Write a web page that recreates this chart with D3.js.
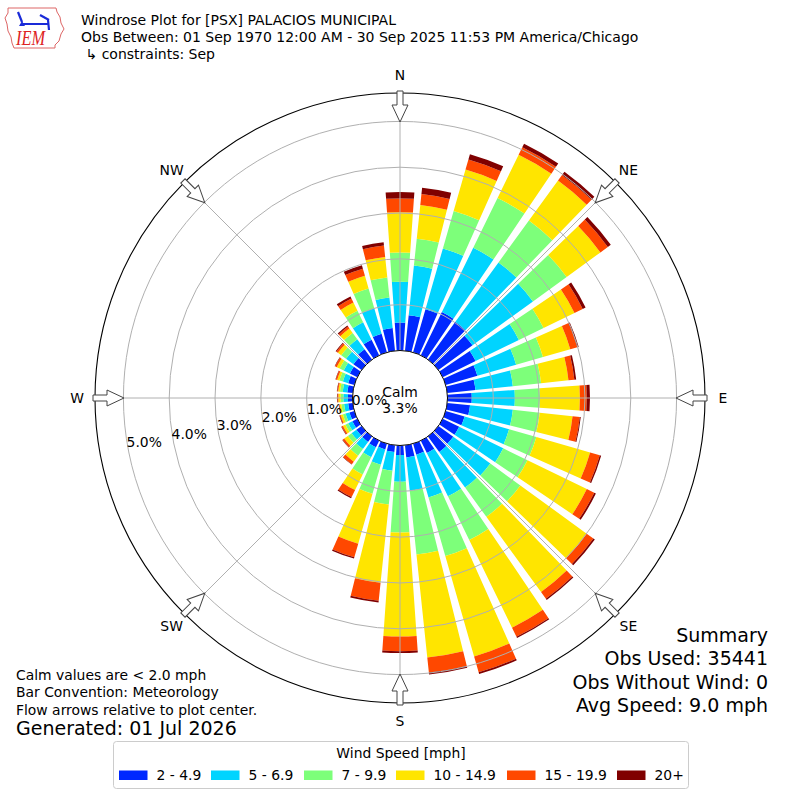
<!DOCTYPE html>
<html>
<head>
<meta charset="utf-8">
<script src="https://cdn.jsdelivr.net/npm/d3@7/dist/d3.min.js"></script>
<style>
  body { margin: 0; background: #fff; }
  svg { display: block; }
  text { font-family: "DejaVu Sans", sans-serif; fill: #000; }
</style>
</head>
<body>
<svg id="chart" width="800" height="800"></svg>
<script>
// wind directions (deg, meteorological) and % frequency per speed bin
const directions = [0, 10, 20, 30, 40, 50, 60, 70, 80, 90, 100, 110, 120, 130, 140, 150, 160, 170,
  180, 190, 200, 210, 220, 230, 240, 250, 260, 270, 280, 290, 300, 310, 320, 330, 340, 350];

const spd2to5 = [0.61, 0.78, 0.98, 1.05, 1.02, 0.92, 0.80, 0.72, 0.62, 0.53, 0.50, 0.43, 0.40, 0.40, 0.42, 0.30, 0.25, 0.27,
  0.21, 0.15, 0.13, 0.16, 0.15, 0.14, 0.12, 0.11, 0.10, 0.10, 0.12, 0.14, 0.18, 0.22, 0.28, 0.38, 0.42, 0.50];
const spd5to7 = [0.89, 1.09, 1.38, 1.56, 1.60, 1.63, 1.05, 0.88, 0.82, 0.94, 0.94, 1.01, 1.07, 1.00, 0.96, 1.05, 0.97, 0.73,
  0.58, 0.41, 0.35, 0.24, 0.19, 0.13, 0.10, 0.09, 0.09, 0.10, 0.10, 0.12, 0.15, 0.20, 0.27, 0.42, 0.58, 0.67];
const spd7to10 = [0.64, 0.59, 0.85, 1.21, 1.13, 0.91, 0.60, 0.61, 0.62, 0.55, 0.59, 0.62, 0.59, 0.81, 0.79, 1.06, 1.33, 1.40,
  1.11, 0.74, 0.66, 0.42, 0.18, 0.10, 0.07, 0.06, 0.06, 0.06, 0.06, 0.08, 0.10, 0.13, 0.17, 0.28, 0.45, 0.44];
const spd10to15 = [0.88, 0.74, 0.94, 1.05, 1.08, 0.91, 0.75, 0.62, 0.60, 0.87, 0.72, 1.22, 1.44, 1.79, 2.03, 2.13, 2.28, 2.26,
  2.27, 1.72, 1.13, 0.38, 0.16, 0.10, 0.06, 0.05, 0.04, 0.05, 0.04, 0.05, 0.07, 0.09, 0.12, 0.20, 0.29, 0.45];
const spd15to20 = [0.30, 0.24, 0.23, 0.18, 0.15, 0.20, 0.20, 0.16, 0.13, 0.15, 0.16, 0.22, 0.18, 0.18, 0.18, 0.22, 0.36, 0.33,
  0.32, 0.39, 0.31, 0.17, 0.07, 0.04, 0.03, 0.02, 0.01, 0.02, 0.02, 0.03, 0.04, 0.04, 0.05, 0.10, 0.16, 0.25];
const spd20plus = [0.14, 0.14, 0.12, 0.09, 0.09, 0.08, 0.07, 0.03, 0.04, 0.07, 0.02, 0.03, 0.04, 0.04, 0.03, 0.03, 0.04, 0.04,
  0.04, 0.04, 0.03, 0.03, 0.01, 0.01, 0.01, 0.01, 0.01, 0.01, 0.01, 0.01, 0.01, 0.02, 0.03, 0.05, 0.08, 0.07];

const binLabels = ["2 - 4.9", "5 - 6.9", "7 - 9.9", "10 - 14.9", "15 - 19.9", "20+"];
const binColors = ["#0028ff", "#00d4ff", "#7dff7a", "#ffe500", "#ff4800", "#800000"];
const calmPct = 3.3;
const ringTicks = [0, 1, 2, 3, 4, 5];
const compassLabels = ["N", "NE", "E", "SE", "S", "SW", "W", "NW"];
const compassAngles = [0, 45, 90, 135, 180, 225, 270, 315];

const titleLines = [
  "Windrose Plot for [PSX] PALACIOS MUNICIPAL",
  "Obs Between: 01 Sep 1970 12:00 AM - 30 Sep 2025 11:53 PM America/Chicago",
  " \u21b3 constraints: Sep"
];
const noteLines = ["Calm values are < 2.0 mph", "Bar Convention: Meteorology", "Flow arrows relative to plot center."];
const generatedText = "Generated: 01 Jul 2026";
const summaryLines = ["Summary", "Obs Used: 35441", "Obs Without Wind: 0", "Avg Speed: 9.0 mph"];

const svg = d3.select("#chart");
const cx = 400, cy = 398;
const rad = (deg) => deg * Math.PI / 180;
const r = d3.scaleLinear().domain([0, 5.62]).range([47.5, 305]);
const rMax = r.range()[1];

const keys = binLabels.map((_, i) => "b" + i);
const series = [spd2to5, spd5to7, spd7to10, spd10to15, spd15to20, spd20plus];
const rows = directions.map((dir, i) => {
  const row = { dir: dir };
  keys.forEach((k, j) => { row[k] = series[j][i]; });
  return row;
});
const stacked = d3.stack().keys(keys)(rows);

const plot = svg.append("g").attr("transform", `translate(${cx},${cy})`);

// bars
const arc = d3.arc()
  .innerRadius(d => r(d[0]))
  .outerRadius(d => r(d[1]))
  .startAngle(d => rad(d.data.dir - 4))
  .endAngle(d => rad(d.data.dir + 4));

plot.selectAll("g.layer")
  .data(stacked)
  .join("g")
  .attr("class", "layer")
  .attr("fill", (d, i) => binColors[i])
  .selectAll("path")
  .data(d => d)
  .join("path")
  .attr("d", arc);

// grid
plot.selectAll("circle.ring")
  .data(ringTicks.slice(1))
  .join("circle")
  .attr("class", "ring")
  .attr("r", d => r(d))
  .attr("fill", "none")
  .attr("stroke", "#b0b0b0")
  .attr("stroke-width", 1);

plot.selectAll("line.spoke")
  .data(compassAngles)
  .join("line")
  .attr("class", "spoke")
  .attr("x1", d => r(0) * Math.sin(rad(d)))
  .attr("y1", d => -r(0) * Math.cos(rad(d)))
  .attr("x2", d => rMax * Math.sin(rad(d)))
  .attr("y2", d => -rMax * Math.cos(rad(d)))
  .attr("stroke", "#b0b0b0")
  .attr("stroke-width", 1);

// calm circle + outer frame
plot.append("circle").attr("r", r(0)).attr("fill", "#fff").attr("stroke", "#000").attr("stroke-width", 1);
plot.append("circle").attr("r", rMax).attr("fill", "none").attr("stroke", "#000").attr("stroke-width", 1.1);

// flow arrows at compass points (point inward)
const arrowPath = "M276,0 L293,-8 L293,-3 L307,-3 L307,3 L293,3 L293,8 Z";
plot.selectAll("path.arrow")
  .data(compassAngles)
  .join("path")
  .attr("class", "arrow")
  .attr("d", arrowPath)
  .attr("transform", d => `rotate(${d - 90})`)
  .attr("fill", "#fff")
  .attr("stroke", "#444")
  .attr("stroke-width", 1);

plot.selectAll("text.compass")
  .data(compassAngles)
  .join("text")
  .attr("class", "compass")
  .attr("x", d => 323 * Math.sin(rad(d)))
  .attr("y", d => -323 * Math.cos(rad(d)))
  .attr("text-anchor", "middle")
  .attr("dominant-baseline", "central")
  .style("font-size", "13.9px")
  .text((d, i) => compassLabels[i]);

// ring labels
const labelAngle = rad(10.5);
plot.selectAll("text.rlabel")
  .data(ringTicks)
  .join("text")
  .attr("class", "rlabel")
  .attr("x", d => -r(d) * Math.cos(labelAngle) - 1.5)
  .attr("y", d => r(d) * Math.sin(labelAngle) - 1.5)
  .style("font-size", "13.9px")
  .text(d => d.toFixed(1) + "%");

plot.append("text").attr("x", 0).attr("y", -1.5).attr("text-anchor", "middle")
  .style("font-size", "13.9px").text("Calm");
plot.append("text").attr("x", 0).attr("y", 14.5).attr("text-anchor", "middle")
  .style("font-size", "13.9px").text(calmPct.toFixed(1) + "%");

// titles
svg.selectAll("text.title")
  .data(titleLines)
  .join("text")
  .attr("class", "title")
  .attr("x", 81)
  .attr("y", (d, i) => 25 + i * 17.2)
  .style("font-size", "14px")
  .style("white-space", "pre")
  .attr("xml:space", "preserve")
  .text(d => d);

// notes, bottom left
svg.selectAll("text.note")
  .data(noteLines)
  .join("text")
  .attr("class", "note")
  .attr("x", 16)
  .attr("y", (d, i) => 680 + i * 17.4)
  .style("font-size", "13.9px")
  .text(d => d);
svg.append("text").attr("x", 16).attr("y", 735).style("font-size", "19px").text(generatedText);

// summary, bottom right
svg.selectAll("text.summary")
  .data(summaryLines)
  .join("text")
  .attr("class", "summary")
  .attr("x", 768)
  .attr("y", (d, i) => 642 + i * 23.3)
  .attr("text-anchor", "end")
  .style("font-size", "19px")
  .text(d => d);

// legend
const legend = svg.append("g");
legend.append("rect")
  .attr("x", 113.5).attr("y", 741.5).attr("width", 575).attr("height", 47)
  .attr("rx", 3).attr("fill", "#fff").attr("stroke", "#cccccc").attr("stroke-width", 1);
legend.append("text").attr("x", 401).attr("y", 758).attr("text-anchor", "middle")
  .style("font-size", "13.9px").text("Wind Speed [mph]");
const legendX = [119, 211, 304, 396, 507, 617];
const items = legend.selectAll("g.item")
  .data(binLabels)
  .join("g")
  .attr("class", "item")
  .attr("transform", (d, i) => `translate(${legendX[i]},770.5)`);
items.append("rect").attr("width", 28.5).attr("height", 9.5).attr("fill", (d, i) => binColors[i]);
items.append("text").attr("x", 37.5).attr("y", 9.5).style("font-size", "13.9px").text(d => d);

// IEM logo
const logo = svg.append("g");
logo.append("path")
  .attr("d", "M8,8 L56,8 L57,12 L60,17 L61,23 L64,29 L61,34 L59,41 L55,45 L55,48 L14,48 L12,43 L11,37 L8,31 L7,24 L5,18 L8,13 Z")
  .attr("fill", "none").attr("stroke", "#d66").attr("stroke-width", 1);
logo.append("path").attr("d", "M22,24 L49,24 M18,12 L22,22 M40,15 L49,20 M48,20 L49,30")
  .attr("stroke", "#1a2bd8").attr("stroke-width", 2.2).attr("fill", "none");
logo.append("path").attr("d", "M19,26 L22,21 L25,26 Z").attr("fill", "#1a2bd8");
logo.append("text").attr("x", 16).attr("y", 45)
  .attr("textLength", 29).attr("lengthAdjust", "spacingAndGlyphs")
  .style("font-family", "'Liberation Serif', serif").style("font-style", "italic")
  .style("font-size", "21px").style("fill", "#d22")
  .text("IEM");
</script>
</body>
</html>
